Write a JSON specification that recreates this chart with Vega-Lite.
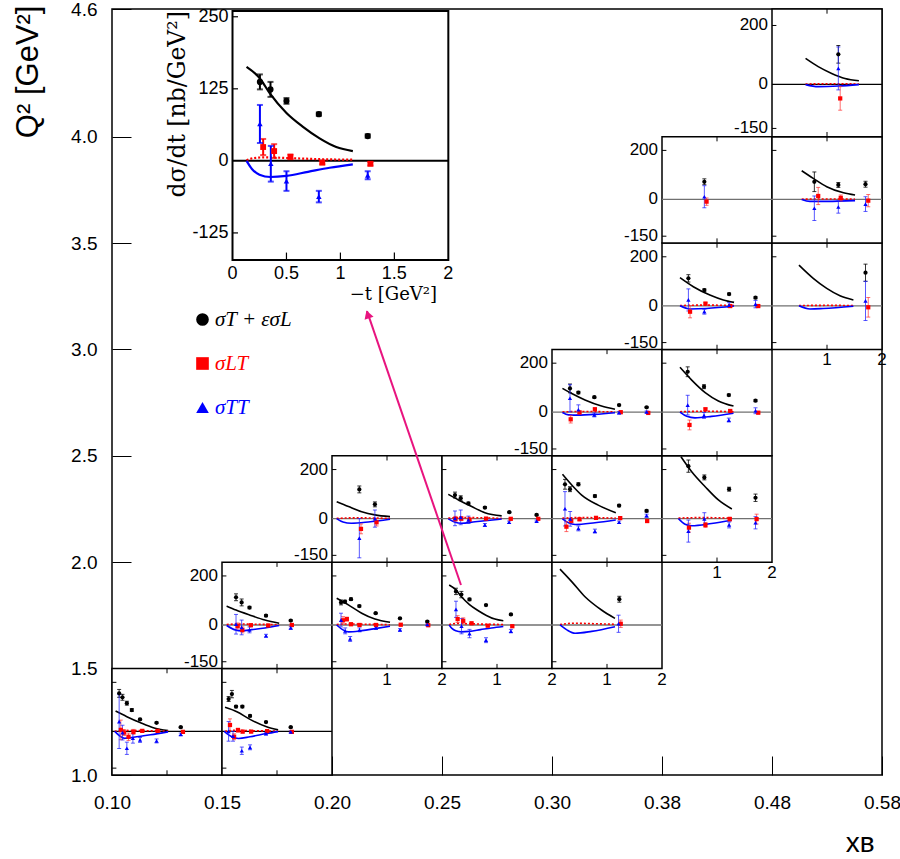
{
  "$schema": "https://vega.github.io/schema/vega-lite/v6.json",
  "width": 770,
  "height": 766,
  "autosize": {"type": "none"},
  "padding": {"left": 112, "top": 9, "right": 18, "bottom": 84},
  "background": "white",
  "config": {
    "view": {"stroke": "black", "strokeWidth": 1.5},
    "font": "Liberation Sans",
    "axis": {"labelFont": "Liberation Sans", "titleFont": "Liberation Sans", "titleFontWeight": "normal", "tickColor": "black", "labelColor": "black", "titleColor": "black", "grid": false, "domain": false},
    "text": {"font": "Liberation Sans", "color": "black"}
  },
  "datasets": {
    "panels": [
      {"panel": "r0c0", "col": 0, "q2lo": 1.0, "q2hi": 1.5, "ylab": false, "xlab": false},
      {"panel": "r0c1", "col": 1, "q2lo": 1.0, "q2hi": 1.5, "ylab": false, "xlab": false},
      {"panel": "r1c1", "col": 1, "q2lo": 1.5, "q2hi": 2.0, "ylab": true, "xlab": false},
      {"panel": "r1c2", "col": 2, "q2lo": 1.5, "q2hi": 2.0, "ylab": false, "xlab": true},
      {"panel": "r1c3", "col": 3, "q2lo": 1.5, "q2hi": 2.0, "ylab": false, "xlab": true},
      {"panel": "r1c4", "col": 4, "q2lo": 1.5, "q2hi": 2.0, "ylab": false, "xlab": true},
      {"panel": "r2c2", "col": 2, "q2lo": 2.0, "q2hi": 2.5, "ylab": true, "xlab": false},
      {"panel": "r2c3", "col": 3, "q2lo": 2.0, "q2hi": 2.5, "ylab": false, "xlab": false},
      {"panel": "r2c4", "col": 4, "q2lo": 2.0, "q2hi": 2.5, "ylab": false, "xlab": false},
      {"panel": "r2c5", "col": 5, "q2lo": 2.0, "q2hi": 2.5, "ylab": false, "xlab": true},
      {"panel": "r3c4", "col": 4, "q2lo": 2.5, "q2hi": 3.0, "ylab": true, "xlab": false},
      {"panel": "r3c5", "col": 5, "q2lo": 2.5, "q2hi": 3.0, "ylab": false, "xlab": false},
      {"panel": "r4c5", "col": 5, "q2lo": 3.0, "q2hi": 3.5, "ylab": true, "xlab": false},
      {"panel": "r4c6", "col": 6, "q2lo": 3.0, "q2hi": 3.5, "ylab": false, "xlab": true},
      {"panel": "r5c5", "col": 5, "q2lo": 3.5, "q2hi": 4.0, "ylab": true, "xlab": false},
      {"panel": "r5c6", "col": 6, "q2lo": 3.5, "q2hi": 4.0, "ylab": false, "xlab": false},
      {"panel": "r6c6", "col": 6, "q2lo": 4.0, "q2hi": 4.6, "ylab": true, "xlab": false}
    ],
    "points": [
      {"panel": "r0c0", "series": "T+L", "t": 0.13, "v": 155, "err": 16},
      {"panel": "r0c0", "series": "T+L", "t": 0.19, "v": 139, "err": 12},
      {"panel": "r0c0", "series": "T+L", "t": 0.27, "v": 115, "err": 8},
      {"panel": "r0c0", "series": "T+L", "t": 0.36, "v": 87, "err": 6},
      {"panel": "r0c0", "series": "T+L", "t": 0.51, "v": 49, "err": 4},
      {"panel": "r0c0", "series": "T+L", "t": 0.81, "v": 35, "err": 3},
      {"panel": "r0c0", "series": "T+L", "t": 1.25, "v": 17, "err": 3},
      {"panel": "r0c0", "series": "LT", "t": 0.16, "v": 6, "err": 40},
      {"panel": "r0c0", "series": "LT", "t": 0.22, "v": -5, "err": 12},
      {"panel": "r0c0", "series": "LT", "t": 0.30, "v": -22, "err": 15},
      {"panel": "r0c0", "series": "LT", "t": 0.39, "v": -2, "err": 10},
      {"panel": "r0c0", "series": "LT", "t": 0.55, "v": 2, "err": 5},
      {"panel": "r0c0", "series": "LT", "t": 0.83, "v": 2, "err": 4},
      {"panel": "r0c0", "series": "LT", "t": 1.29, "v": -2, "err": 3},
      {"panel": "r0c0", "series": "TT", "t": 0.13, "v": 40, "err": 110},
      {"panel": "r0c0", "series": "TT", "t": 0.19, "v": -5, "err": 30},
      {"panel": "r0c0", "series": "TT", "t": 0.27, "v": -69, "err": 25},
      {"panel": "r0c0", "series": "TT", "t": 0.38, "v": -28, "err": 20},
      {"panel": "r0c0", "series": "TT", "t": 0.51, "v": -35, "err": 10},
      {"panel": "r0c0", "series": "TT", "t": 0.81, "v": -39, "err": 8},
      {"panel": "r0c0", "series": "TT", "t": 1.25, "v": -12, "err": 5},

      {"panel": "r0c1", "series": "T+L", "t": 0.12, "v": 132, "err": 10},
      {"panel": "r0c1", "series": "T+L", "t": 0.18, "v": 152, "err": 15},
      {"panel": "r0c1", "series": "T+L", "t": 0.255, "v": 101, "err": 5},
      {"panel": "r0c1", "series": "T+L", "t": 0.37, "v": 101, "err": 5},
      {"panel": "r0c1", "series": "T+L", "t": 0.51, "v": 63, "err": 4},
      {"panel": "r0c1", "series": "T+L", "t": 0.8, "v": 38, "err": 3},
      {"panel": "r0c1", "series": "T+L", "t": 1.25, "v": 17, "err": 3},
      {"panel": "r0c1", "series": "LT", "t": 0.145, "v": 26, "err": 25},
      {"panel": "r0c1", "series": "LT", "t": 0.22, "v": -22, "err": 12},
      {"panel": "r0c1", "series": "LT", "t": 0.29, "v": 5, "err": 8},
      {"panel": "r0c1", "series": "LT", "t": 0.375, "v": -1, "err": 5},
      {"panel": "r0c1", "series": "LT", "t": 0.53, "v": -1, "err": 4},
      {"panel": "r0c1", "series": "LT", "t": 0.82, "v": 1, "err": 3},
      {"panel": "r0c1", "series": "LT", "t": 1.27, "v": -2, "err": 3},
      {"panel": "r0c1", "series": "TT", "t": 0.12, "v": 0, "err": 40},
      {"panel": "r0c1", "series": "TT", "t": 0.2, "v": -20, "err": 20},
      {"panel": "r0c1", "series": "TT", "t": 0.36, "v": -79, "err": 15},
      {"panel": "r0c1", "series": "TT", "t": 0.51, "v": -65, "err": 10},
      {"panel": "r0c1", "series": "TT", "t": 0.8, "v": -9, "err": 5},
      {"panel": "r0c1", "series": "TT", "t": 1.25, "v": -2, "err": 4},

      {"panel": "r1c1", "series": "T+L", "t": 0.255, "v": 113, "err": 14},
      {"panel": "r1c1", "series": "T+L", "t": 0.357, "v": 92, "err": 14},
      {"panel": "r1c1", "series": "T+L", "t": 0.5, "v": 71, "err": 5},
      {"panel": "r1c1", "series": "T+L", "t": 0.8, "v": 38, "err": 4},
      {"panel": "r1c1", "series": "T+L", "t": 1.25, "v": 18, "err": 3},
      {"panel": "r1c1", "series": "LT", "t": 0.285, "v": -4, "err": 12},
      {"panel": "r1c1", "series": "LT", "t": 0.37, "v": -20, "err": 12},
      {"panel": "r1c1", "series": "LT", "t": 0.525, "v": -1, "err": 5},
      {"panel": "r1c1", "series": "LT", "t": 0.84, "v": -2, "err": 3},
      {"panel": "r1c1", "series": "LT", "t": 1.27, "v": 0, "err": 3},
      {"panel": "r1c1", "series": "TT", "t": 0.255, "v": 3, "err": 40},
      {"panel": "r1c1", "series": "TT", "t": 0.357, "v": -10, "err": 30},
      {"panel": "r1c1", "series": "TT", "t": 0.5, "v": -20, "err": 12},
      {"panel": "r1c1", "series": "TT", "t": 0.8, "v": -44, "err": 6},
      {"panel": "r1c1", "series": "TT", "t": 1.25, "v": -12, "err": 5},

      {"panel": "r1c2", "series": "T+L", "t": 0.164, "v": 92, "err": 10},
      {"panel": "r1c2", "series": "T+L", "t": 0.236, "v": 95, "err": 6},
      {"panel": "r1c2", "series": "T+L", "t": 0.345, "v": 105, "err": 5},
      {"panel": "r1c2", "series": "T+L", "t": 0.497, "v": 77, "err": 4},
      {"panel": "r1c2", "series": "T+L", "t": 0.794, "v": 48, "err": 3},
      {"panel": "r1c2", "series": "T+L", "t": 1.236, "v": 27, "err": 3},
      {"panel": "r1c2", "series": "T+L", "t": 1.733, "v": 14, "err": 3},
      {"panel": "r1c2", "series": "LT", "t": 0.2, "v": 19, "err": 15},
      {"panel": "r1c2", "series": "LT", "t": 0.27, "v": 24, "err": 8},
      {"panel": "r1c2", "series": "LT", "t": 0.345, "v": 3, "err": 5},
      {"panel": "r1c2", "series": "LT", "t": 0.5, "v": 0, "err": 4},
      {"panel": "r1c2", "series": "LT", "t": 0.8, "v": 0, "err": 3},
      {"panel": "r1c2", "series": "LT", "t": 1.25, "v": 1, "err": 3},
      {"panel": "r1c2", "series": "LT", "t": 1.75, "v": -1, "err": 3},
      {"panel": "r1c2", "series": "TT", "t": 0.164, "v": 20, "err": 28},
      {"panel": "r1c2", "series": "TT", "t": 0.24, "v": -24, "err": 12},
      {"panel": "r1c2", "series": "TT", "t": 0.33, "v": -57, "err": 10},
      {"panel": "r1c2", "series": "TT", "t": 0.5, "v": -20, "err": 8},
      {"panel": "r1c2", "series": "TT", "t": 0.8, "v": -12, "err": 5},
      {"panel": "r1c2", "series": "TT", "t": 1.236, "v": -20, "err": 5},
      {"panel": "r1c2", "series": "TT", "t": 1.733, "v": 2, "err": 3},

      {"panel": "r1c3", "series": "T+L", "t": 0.254, "v": 137, "err": 13},
      {"panel": "r1c3", "series": "T+L", "t": 0.352, "v": 124, "err": 13},
      {"panel": "r1c3", "series": "T+L", "t": 0.5, "v": 104, "err": 5},
      {"panel": "r1c3", "series": "T+L", "t": 0.8, "v": 81, "err": 3},
      {"panel": "r1c3", "series": "T+L", "t": 1.253, "v": 43, "err": 3},
      {"panel": "r1c3", "series": "LT", "t": 0.284, "v": 24, "err": 14},
      {"panel": "r1c3", "series": "LT", "t": 0.386, "v": 17, "err": 12},
      {"panel": "r1c3", "series": "LT", "t": 0.537, "v": 7, "err": 4},
      {"panel": "r1c3", "series": "LT", "t": 0.832, "v": -3, "err": 3},
      {"panel": "r1c3", "series": "LT", "t": 1.278, "v": -5, "err": 3},
      {"panel": "r1c3", "series": "TT", "t": 0.254, "v": 64, "err": 33},
      {"panel": "r1c3", "series": "TT", "t": 0.355, "v": -5, "err": 31},
      {"panel": "r1c3", "series": "TT", "t": 0.5, "v": -35, "err": 17},
      {"panel": "r1c3", "series": "TT", "t": 0.8, "v": -62, "err": 10},
      {"panel": "r1c3", "series": "TT", "t": 1.253, "v": -25, "err": 7},

      {"panel": "r1c4", "series": "T+L", "t": 1.224, "v": 105, "err": 12},
      {"panel": "r1c4", "series": "LT", "t": 1.25, "v": 5, "err": 15},
      {"panel": "r1c4", "series": "TT", "t": 1.21, "v": 5, "err": 35},

      {"panel": "r2c2", "series": "T+L", "t": 0.497, "v": 119, "err": 14},
      {"panel": "r2c2", "series": "T+L", "t": 0.78, "v": 58, "err": 10},
      {"panel": "r2c2", "series": "LT", "t": 0.527, "v": -42, "err": 20},
      {"panel": "r2c2", "series": "LT", "t": 0.81, "v": -15, "err": 15},
      {"panel": "r2c2", "series": "TT", "t": 0.497, "v": -80, "err": 80},
      {"panel": "r2c2", "series": "TT", "t": 0.78, "v": 0, "err": 35},

      {"panel": "r2c3", "series": "T+L", "t": 0.236, "v": 96, "err": 12},
      {"panel": "r2c3", "series": "T+L", "t": 0.34, "v": 83, "err": 10},
      {"panel": "r2c3", "series": "T+L", "t": 0.48, "v": 62, "err": 5},
      {"panel": "r2c3", "series": "T+L", "t": 0.78, "v": 45, "err": 4},
      {"panel": "r2c3", "series": "T+L", "t": 1.224, "v": 26, "err": 3},
      {"panel": "r2c3", "series": "T+L", "t": 1.72, "v": 15, "err": 3},
      {"panel": "r2c3", "series": "LT", "t": 0.245, "v": -1, "err": 10},
      {"panel": "r2c3", "series": "LT", "t": 0.35, "v": 0, "err": 8},
      {"panel": "r2c3", "series": "LT", "t": 0.5, "v": -4, "err": 5},
      {"panel": "r2c3", "series": "LT", "t": 0.8, "v": 0, "err": 3},
      {"panel": "r2c3", "series": "LT", "t": 1.25, "v": -1, "err": 3},
      {"panel": "r2c3", "series": "LT", "t": 1.75, "v": -1, "err": 3},
      {"panel": "r2c3", "series": "TT", "t": 0.236, "v": 1, "err": 30},
      {"panel": "r2c3", "series": "TT", "t": 0.34, "v": 5, "err": 30},
      {"panel": "r2c3", "series": "TT", "t": 0.48, "v": -5, "err": 15},
      {"panel": "r2c3", "series": "TT", "t": 0.78, "v": -26, "err": 6},
      {"panel": "r2c3", "series": "TT", "t": 1.22, "v": -15, "err": 5},
      {"panel": "r2c3", "series": "TT", "t": 1.72, "v": -10, "err": 4},

      {"panel": "r2c4", "series": "T+L", "t": 0.236, "v": 140, "err": 20},
      {"panel": "r2c4", "series": "T+L", "t": 0.327, "v": 120, "err": 10},
      {"panel": "r2c4", "series": "T+L", "t": 0.48, "v": 140, "err": 6},
      {"panel": "r2c4", "series": "T+L", "t": 0.78, "v": 92, "err": 5},
      {"panel": "r2c4", "series": "T+L", "t": 1.22, "v": 53, "err": 5},
      {"panel": "r2c4", "series": "T+L", "t": 1.72, "v": 31, "err": 4},
      {"panel": "r2c4", "series": "LT", "t": 0.262, "v": -33, "err": 20},
      {"panel": "r2c4", "series": "LT", "t": 0.35, "v": -9, "err": 8},
      {"panel": "r2c4", "series": "LT", "t": 0.5, "v": -3, "err": 5},
      {"panel": "r2c4", "series": "LT", "t": 0.8, "v": 3, "err": 4},
      {"panel": "r2c4", "series": "LT", "t": 1.24, "v": 2, "err": 4},
      {"panel": "r2c4", "series": "LT", "t": 1.73, "v": -10, "err": 4},
      {"panel": "r2c4", "series": "TT", "t": 0.236, "v": 40, "err": 70},
      {"panel": "r2c4", "series": "TT", "t": 0.33, "v": -1, "err": 30},
      {"panel": "r2c4", "series": "TT", "t": 0.48, "v": -40, "err": 10},
      {"panel": "r2c4", "series": "TT", "t": 0.78, "v": -51, "err": 8},
      {"panel": "r2c4", "series": "TT", "t": 1.22, "v": -15, "err": 5},
      {"panel": "r2c4", "series": "TT", "t": 1.72, "v": 12, "err": 6},

      {"panel": "r2c5", "series": "T+L", "t": 0.48, "v": 214, "err": 25},
      {"panel": "r2c5", "series": "T+L", "t": 0.77, "v": 168, "err": 10},
      {"panel": "r2c5", "series": "T+L", "t": 1.22, "v": 120, "err": 8},
      {"panel": "r2c5", "series": "T+L", "t": 1.7, "v": 85, "err": 15},
      {"panel": "r2c5", "series": "LT", "t": 0.49, "v": -37, "err": 18},
      {"panel": "r2c5", "series": "LT", "t": 0.79, "v": -26, "err": 10},
      {"panel": "r2c5", "series": "LT", "t": 1.23, "v": -2, "err": 8},
      {"panel": "r2c5", "series": "LT", "t": 1.72, "v": -2, "err": 20},
      {"panel": "r2c5", "series": "TT", "t": 0.48, "v": -51, "err": 45},
      {"panel": "r2c5", "series": "TT", "t": 0.77, "v": -1, "err": 25},
      {"panel": "r2c5", "series": "TT", "t": 1.22, "v": -26, "err": 12},
      {"panel": "r2c5", "series": "TT", "t": 1.7, "v": -17, "err": 25},

      {"panel": "r3c4", "series": "T+L", "t": 0.327, "v": 97, "err": 18},
      {"panel": "r3c4", "series": "T+L", "t": 0.48, "v": 80, "err": 5},
      {"panel": "r3c4", "series": "T+L", "t": 0.77, "v": 61, "err": 4},
      {"panel": "r3c4", "series": "T+L", "t": 1.22, "v": 29, "err": 3},
      {"panel": "r3c4", "series": "T+L", "t": 1.72, "v": 20, "err": 3},
      {"panel": "r3c4", "series": "LT", "t": 0.34, "v": -29, "err": 15},
      {"panel": "r3c4", "series": "LT", "t": 0.5, "v": -1, "err": 6},
      {"panel": "r3c4", "series": "LT", "t": 0.78, "v": 12, "err": 5},
      {"panel": "r3c4", "series": "LT", "t": 1.25, "v": 0, "err": 4},
      {"panel": "r3c4", "series": "LT", "t": 1.75, "v": -3, "err": 3},
      {"panel": "r3c4", "series": "TT", "t": 0.327, "v": 57, "err": 55},
      {"panel": "r3c4", "series": "TT", "t": 0.48, "v": 10, "err": 20},
      {"panel": "r3c4", "series": "TT", "t": 0.77, "v": -11, "err": 8},
      {"panel": "r3c4", "series": "TT", "t": 1.22, "v": -2, "err": 5},
      {"panel": "r3c4", "series": "TT", "t": 1.72, "v": 1, "err": 4},

      {"panel": "r3c5", "series": "T+L", "t": 0.467, "v": 165, "err": 20},
      {"panel": "r3c5", "series": "T+L", "t": 0.764, "v": 104, "err": 8},
      {"panel": "r3c5", "series": "T+L", "t": 1.215, "v": 70, "err": 4},
      {"panel": "r3c5", "series": "T+L", "t": 1.7, "v": 47, "err": 4},
      {"panel": "r3c5", "series": "LT", "t": 0.5, "v": -52, "err": 20},
      {"panel": "r3c5", "series": "LT", "t": 0.79, "v": 12, "err": 5},
      {"panel": "r3c5", "series": "LT", "t": 1.24, "v": 5, "err": 4},
      {"panel": "r3c5", "series": "LT", "t": 1.75, "v": -2, "err": 4},
      {"panel": "r3c5", "series": "TT", "t": 0.467, "v": 29, "err": 40},
      {"panel": "r3c5", "series": "TT", "t": 0.764, "v": -13, "err": 12},
      {"panel": "r3c5", "series": "TT", "t": 1.215, "v": -32, "err": 8},
      {"panel": "r3c5", "series": "TT", "t": 1.7, "v": 6, "err": 12},

      {"panel": "r4c5", "series": "T+L", "t": 0.48, "v": 112, "err": 15},
      {"panel": "r4c5", "series": "T+L", "t": 0.77, "v": 64, "err": 5},
      {"panel": "r4c5", "series": "T+L", "t": 1.22, "v": 48, "err": 4},
      {"panel": "r4c5", "series": "T+L", "t": 1.7, "v": 33, "err": 4},
      {"panel": "r4c5", "series": "LT", "t": 0.51, "v": -24, "err": 25},
      {"panel": "r4c5", "series": "LT", "t": 0.79, "v": 9, "err": 5},
      {"panel": "r4c5", "series": "LT", "t": 1.24, "v": -1, "err": 4},
      {"panel": "r4c5", "series": "LT", "t": 1.75, "v": -1, "err": 4},
      {"panel": "r4c5", "series": "TT", "t": 0.48, "v": 24, "err": 45},
      {"panel": "r4c5", "series": "TT", "t": 0.77, "v": -24, "err": 10},
      {"panel": "r4c5", "series": "TT", "t": 1.22, "v": 3, "err": 10},
      {"panel": "r4c5", "series": "TT", "t": 1.7, "v": 7, "err": 15},

      {"panel": "r4c6", "series": "T+L", "t": 1.7, "v": 135, "err": 35},
      {"panel": "r4c6", "series": "LT", "t": 1.75, "v": -6, "err": 40},
      {"panel": "r4c6", "series": "TT", "t": 1.7, "v": 20, "err": 80},

      {"panel": "r5c5", "series": "T+L", "t": 0.77, "v": 72, "err": 12},
      {"panel": "r5c5", "series": "LT", "t": 0.81, "v": -9, "err": 15},
      {"panel": "r5c5", "series": "TT", "t": 0.77, "v": 11, "err": 45},

      {"panel": "r5c6", "series": "T+L", "t": 0.77, "v": 72, "err": 40},
      {"panel": "r5c6", "series": "T+L", "t": 1.206, "v": 59, "err": 10},
      {"panel": "r5c6", "series": "T+L", "t": 1.7, "v": 62, "err": 12},
      {"panel": "r5c6", "series": "LT", "t": 0.84, "v": 14, "err": 35},
      {"panel": "r5c6", "series": "LT", "t": 1.25, "v": 6, "err": 12},
      {"panel": "r5c6", "series": "LT", "t": 1.75, "v": -5, "err": 25},
      {"panel": "r5c6", "series": "TT", "t": 0.77, "v": -36, "err": 50},
      {"panel": "r5c6", "series": "TT", "t": 1.206, "v": -31, "err": 25},
      {"panel": "r5c6", "series": "TT", "t": 1.7, "v": -19, "err": 30},

      {"panel": "r6c6", "series": "T+L", "t": 1.206, "v": 102, "err": 30},
      {"panel": "r6c6", "series": "LT", "t": 1.24, "v": -48, "err": 40},
      {"panel": "r6c6", "series": "TT", "t": 1.206, "v": 54, "err": 73}
    ],
    "curves": [
      {"panel": "r0c0", "series": "T+L", "t": 0.065, "v": 83},
      {"panel": "r0c0", "series": "T+L", "t": 0.27, "v": 60},
      {"panel": "r0c0", "series": "T+L", "t": 0.51, "v": 36},
      {"panel": "r0c0", "series": "T+L", "t": 0.75, "v": 15},
      {"panel": "r0c0", "series": "T+L", "t": 1.02, "v": 3},
      {"panel": "r0c0", "series": "LT", "t": 0.05, "v": 0},
      {"panel": "r0c0", "series": "LT", "t": 0.2, "v": 4},
      {"panel": "r0c0", "series": "LT", "t": 0.5, "v": 3},
      {"panel": "r0c0", "series": "LT", "t": 1.02, "v": 1},
      {"panel": "r0c0", "series": "TT", "t": 0.05, "v": 0},
      {"panel": "r0c0", "series": "TT", "t": 0.23, "v": -28},
      {"panel": "r0c0", "series": "TT", "t": 0.39, "v": -24},
      {"panel": "r0c0", "series": "TT", "t": 0.7, "v": -14},
      {"panel": "r0c0", "series": "TT", "t": 1.02, "v": -2},

      {"panel": "r0c1", "series": "T+L", "t": 0.055, "v": 98},
      {"panel": "r0c1", "series": "T+L", "t": 0.27, "v": 80},
      {"panel": "r0c1", "series": "T+L", "t": 0.51, "v": 49},
      {"panel": "r0c1", "series": "T+L", "t": 0.81, "v": 19},
      {"panel": "r0c1", "series": "T+L", "t": 1.02, "v": 6},
      {"panel": "r0c1", "series": "LT", "t": 0.055, "v": 0},
      {"panel": "r0c1", "series": "LT", "t": 0.2, "v": 4},
      {"panel": "r0c1", "series": "LT", "t": 0.5, "v": 3},
      {"panel": "r0c1", "series": "LT", "t": 1.02, "v": 1},
      {"panel": "r0c1", "series": "TT", "t": 0.04, "v": 0},
      {"panel": "r0c1", "series": "TT", "t": 0.18, "v": -22},
      {"panel": "r0c1", "series": "TT", "t": 0.3, "v": -29},
      {"panel": "r0c1", "series": "TT", "t": 0.51, "v": -22},
      {"panel": "r0c1", "series": "TT", "t": 0.81, "v": -9},
      {"panel": "r0c1", "series": "TT", "t": 1.02, "v": -1},

      {"panel": "r1c1", "series": "T+L", "t": 0.085, "v": 77},
      {"panel": "r1c1", "series": "T+L", "t": 0.255, "v": 61},
      {"panel": "r1c1", "series": "T+L", "t": 0.5, "v": 41},
      {"panel": "r1c1", "series": "T+L", "t": 0.78, "v": 20},
      {"panel": "r1c1", "series": "T+L", "t": 1.04, "v": 7},
      {"panel": "r1c1", "series": "LT", "t": 0.085, "v": 2},
      {"panel": "r1c1", "series": "LT", "t": 0.3, "v": 4},
      {"panel": "r1c1", "series": "LT", "t": 0.6, "v": 3},
      {"panel": "r1c1", "series": "LT", "t": 1.04, "v": 1},
      {"panel": "r1c1", "series": "TT", "t": 0.085, "v": -2},
      {"panel": "r1c1", "series": "TT", "t": 0.24, "v": -20},
      {"panel": "r1c1", "series": "TT", "t": 0.36, "v": -24},
      {"panel": "r1c1", "series": "TT", "t": 0.54, "v": -19},
      {"panel": "r1c1", "series": "TT", "t": 0.78, "v": -12},
      {"panel": "r1c1", "series": "TT", "t": 1.04, "v": -2},

      {"panel": "r1c2", "series": "T+L", "t": 0.085, "v": 109},
      {"panel": "r1c2", "series": "T+L", "t": 0.297, "v": 82},
      {"panel": "r1c2", "series": "T+L", "t": 0.54, "v": 48},
      {"panel": "r1c2", "series": "T+L", "t": 0.78, "v": 24},
      {"panel": "r1c2", "series": "T+L", "t": 1.055, "v": 11},
      {"panel": "r1c2", "series": "LT", "t": 0.085, "v": 2},
      {"panel": "r1c2", "series": "LT", "t": 0.3, "v": 4},
      {"panel": "r1c2", "series": "LT", "t": 0.6, "v": 3},
      {"panel": "r1c2", "series": "LT", "t": 1.055, "v": 1},
      {"panel": "r1c2", "series": "TT", "t": 0.085, "v": 0},
      {"panel": "r1c2", "series": "TT", "t": 0.2, "v": -20},
      {"panel": "r1c2", "series": "TT", "t": 0.3, "v": -28},
      {"panel": "r1c2", "series": "TT", "t": 0.54, "v": -23},
      {"panel": "r1c2", "series": "TT", "t": 0.78, "v": -15},
      {"panel": "r1c2", "series": "TT", "t": 1.055, "v": -5},

      {"panel": "r1c3", "series": "T+L", "t": 0.13, "v": 163},
      {"panel": "r1c3", "series": "T+L", "t": 0.254, "v": 143},
      {"panel": "r1c3", "series": "T+L", "t": 0.346, "v": 117},
      {"panel": "r1c3", "series": "T+L", "t": 0.5, "v": 83},
      {"panel": "r1c3", "series": "T+L", "t": 0.653, "v": 59},
      {"panel": "r1c3", "series": "T+L", "t": 0.807, "v": 39},
      {"panel": "r1c3", "series": "T+L", "t": 0.961, "v": 24},
      {"panel": "r1c3", "series": "T+L", "t": 1.115, "v": 17},
      {"panel": "r1c3", "series": "LT", "t": 0.13, "v": 1},
      {"panel": "r1c3", "series": "LT", "t": 0.2, "v": 5},
      {"panel": "r1c3", "series": "LT", "t": 0.3, "v": 6},
      {"panel": "r1c3", "series": "LT", "t": 0.5, "v": 5},
      {"panel": "r1c3", "series": "LT", "t": 0.8, "v": 3},
      {"panel": "r1c3", "series": "LT", "t": 1.115, "v": 2},
      {"panel": "r1c3", "series": "TT", "t": 0.13, "v": 0},
      {"panel": "r1c3", "series": "TT", "t": 0.18, "v": -14},
      {"panel": "r1c3", "series": "TT", "t": 0.25, "v": -24},
      {"panel": "r1c3", "series": "TT", "t": 0.35, "v": -28},
      {"panel": "r1c3", "series": "TT", "t": 0.5, "v": -26},
      {"panel": "r1c3", "series": "TT", "t": 0.7, "v": -19},
      {"panel": "r1c3", "series": "TT", "t": 0.9, "v": -12},
      {"panel": "r1c3", "series": "TT", "t": 1.115, "v": -6},

      {"panel": "r1c4", "series": "T+L", "t": 0.145, "v": 228},
      {"panel": "r1c4", "series": "T+L", "t": 0.358, "v": 177},
      {"panel": "r1c4", "series": "T+L", "t": 0.6, "v": 115},
      {"panel": "r1c4", "series": "T+L", "t": 0.9, "v": 61},
      {"panel": "r1c4", "series": "T+L", "t": 1.145, "v": 27},
      {"panel": "r1c4", "series": "LT", "t": 0.145, "v": 2},
      {"panel": "r1c4", "series": "LT", "t": 0.4, "v": 7},
      {"panel": "r1c4", "series": "LT", "t": 0.8, "v": 5},
      {"panel": "r1c4", "series": "LT", "t": 1.145, "v": 3},
      {"panel": "r1c4", "series": "TT", "t": 0.145, "v": 0},
      {"panel": "r1c4", "series": "TT", "t": 0.27, "v": -20},
      {"panel": "r1c4", "series": "TT", "t": 0.42, "v": -34},
      {"panel": "r1c4", "series": "TT", "t": 0.72, "v": -26},
      {"panel": "r1c4", "series": "TT", "t": 1.145, "v": -7},

      {"panel": "r2c2", "series": "T+L", "t": 0.085, "v": 69},
      {"panel": "r2c2", "series": "T+L", "t": 0.3, "v": 49},
      {"panel": "r2c2", "series": "T+L", "t": 0.54, "v": 28},
      {"panel": "r2c2", "series": "T+L", "t": 0.78, "v": 15},
      {"panel": "r2c2", "series": "T+L", "t": 1.055, "v": 8},
      {"panel": "r2c2", "series": "LT", "t": 0.085, "v": 1},
      {"panel": "r2c2", "series": "LT", "t": 0.4, "v": 3},
      {"panel": "r2c2", "series": "LT", "t": 1.055, "v": 1},
      {"panel": "r2c2", "series": "TT", "t": 0.085, "v": 0},
      {"panel": "r2c2", "series": "TT", "t": 0.2, "v": -14},
      {"panel": "r2c2", "series": "TT", "t": 0.35, "v": -19},
      {"panel": "r2c2", "series": "TT", "t": 0.66, "v": -14},
      {"panel": "r2c2", "series": "TT", "t": 1.055, "v": -3},

      {"panel": "r2c3", "series": "T+L", "t": 0.115, "v": 99},
      {"panel": "r2c3", "series": "T+L", "t": 0.3, "v": 76},
      {"panel": "r2c3", "series": "T+L", "t": 0.54, "v": 49},
      {"panel": "r2c3", "series": "T+L", "t": 0.78, "v": 24},
      {"panel": "r2c3", "series": "T+L", "t": 1.085, "v": 11},
      {"panel": "r2c3", "series": "LT", "t": 0.115, "v": 2},
      {"panel": "r2c3", "series": "LT", "t": 0.4, "v": 4},
      {"panel": "r2c3", "series": "LT", "t": 0.8, "v": 3},
      {"panel": "r2c3", "series": "LT", "t": 1.085, "v": 1},
      {"panel": "r2c3", "series": "TT", "t": 0.115, "v": -1},
      {"panel": "r2c3", "series": "TT", "t": 0.24, "v": -15},
      {"panel": "r2c3", "series": "TT", "t": 0.35, "v": -19},
      {"panel": "r2c3", "series": "TT", "t": 0.6, "v": -13},
      {"panel": "r2c3", "series": "TT", "t": 1.085, "v": -2},

      {"panel": "r2c4", "series": "T+L", "t": 0.19, "v": 181},
      {"panel": "r2c4", "series": "T+L", "t": 0.36, "v": 137},
      {"panel": "r2c4", "series": "T+L", "t": 0.54, "v": 96},
      {"panel": "r2c4", "series": "T+L", "t": 0.84, "v": 55},
      {"panel": "r2c4", "series": "T+L", "t": 1.16, "v": 24},
      {"panel": "r2c4", "series": "LT", "t": 0.19, "v": 2},
      {"panel": "r2c4", "series": "LT", "t": 0.5, "v": 4},
      {"panel": "r2c4", "series": "LT", "t": 1.16, "v": 2},
      {"panel": "r2c4", "series": "TT", "t": 0.19, "v": -1},
      {"panel": "r2c4", "series": "TT", "t": 0.3, "v": -17},
      {"panel": "r2c4", "series": "TT", "t": 0.42, "v": -24},
      {"panel": "r2c4", "series": "TT", "t": 0.78, "v": -17},
      {"panel": "r2c4", "series": "TT", "t": 1.16, "v": -6},

      {"panel": "r2c5", "series": "T+L", "t": 0.345, "v": 252},
      {"panel": "r2c5", "series": "T+L", "t": 0.54, "v": 191},
      {"panel": "r2c5", "series": "T+L", "t": 0.785, "v": 130},
      {"panel": "r2c5", "series": "T+L", "t": 1.025, "v": 76},
      {"panel": "r2c5", "series": "T+L", "t": 1.27, "v": 39},
      {"panel": "r2c5", "series": "LT", "t": 0.3, "v": 2},
      {"panel": "r2c5", "series": "LT", "t": 0.7, "v": 4},
      {"panel": "r2c5", "series": "LT", "t": 1.27, "v": 2},
      {"panel": "r2c5", "series": "TT", "t": 0.3, "v": 0},
      {"panel": "r2c5", "series": "TT", "t": 0.42, "v": -23},
      {"panel": "r2c5", "series": "TT", "t": 0.54, "v": -29},
      {"panel": "r2c5", "series": "TT", "t": 0.9, "v": -20},
      {"panel": "r2c5", "series": "TT", "t": 1.27, "v": -7},

      {"panel": "r3c4", "series": "T+L", "t": 0.19, "v": 97},
      {"panel": "r3c4", "series": "T+L", "t": 0.35, "v": 77},
      {"panel": "r3c4", "series": "T+L", "t": 0.6, "v": 50},
      {"panel": "r3c4", "series": "T+L", "t": 0.9, "v": 25},
      {"panel": "r3c4", "series": "T+L", "t": 1.145, "v": 12},
      {"panel": "r3c4", "series": "LT", "t": 0.19, "v": 1},
      {"panel": "r3c4", "series": "LT", "t": 0.5, "v": 3},
      {"panel": "r3c4", "series": "LT", "t": 1.145, "v": 1},
      {"panel": "r3c4", "series": "TT", "t": 0.19, "v": -1},
      {"panel": "r3c4", "series": "TT", "t": 0.3, "v": -11},
      {"panel": "r3c4", "series": "TT", "t": 0.45, "v": -12},
      {"panel": "r3c4", "series": "TT", "t": 0.78, "v": -9},
      {"panel": "r3c4", "series": "TT", "t": 1.145, "v": -2},

      {"panel": "r3c5", "series": "T+L", "t": 0.327, "v": 183},
      {"panel": "r3c5", "series": "T+L", "t": 0.54, "v": 131},
      {"panel": "r3c5", "series": "T+L", "t": 0.785, "v": 80},
      {"panel": "r3c5", "series": "T+L", "t": 1.025, "v": 46},
      {"panel": "r3c5", "series": "T+L", "t": 1.3, "v": 25},
      {"panel": "r3c5", "series": "LT", "t": 0.327, "v": 2},
      {"panel": "r3c5", "series": "LT", "t": 0.8, "v": 4},
      {"panel": "r3c5", "series": "LT", "t": 1.3, "v": 2},
      {"panel": "r3c5", "series": "TT", "t": 0.327, "v": 0},
      {"panel": "r3c5", "series": "TT", "t": 0.45, "v": -17},
      {"panel": "r3c5", "series": "TT", "t": 0.6, "v": -23},
      {"panel": "r3c5", "series": "TT", "t": 0.9, "v": -17},
      {"panel": "r3c5", "series": "TT", "t": 1.3, "v": -4},

      {"panel": "r4c5", "series": "T+L", "t": 0.327, "v": 115},
      {"panel": "r4c5", "series": "T+L", "t": 0.57, "v": 78},
      {"panel": "r4c5", "series": "T+L", "t": 0.87, "v": 44},
      {"panel": "r4c5", "series": "T+L", "t": 1.115, "v": 24},
      {"panel": "r4c5", "series": "T+L", "t": 1.31, "v": 14},
      {"panel": "r4c5", "series": "LT", "t": 0.327, "v": 1},
      {"panel": "r4c5", "series": "LT", "t": 0.8, "v": 3},
      {"panel": "r4c5", "series": "LT", "t": 1.31, "v": 1},
      {"panel": "r4c5", "series": "TT", "t": 0.327, "v": 0},
      {"panel": "r4c5", "series": "TT", "t": 0.51, "v": -13},
      {"panel": "r4c5", "series": "TT", "t": 0.81, "v": -11},
      {"panel": "r4c5", "series": "TT", "t": 1.31, "v": -1},

      {"panel": "r4c6", "series": "T+L", "t": 0.49, "v": 166},
      {"panel": "r4c6", "series": "T+L", "t": 0.75, "v": 112},
      {"panel": "r4c6", "series": "T+L", "t": 0.995, "v": 71},
      {"panel": "r4c6", "series": "T+L", "t": 1.236, "v": 41},
      {"panel": "r4c6", "series": "T+L", "t": 1.48, "v": 24},
      {"panel": "r4c6", "series": "LT", "t": 0.49, "v": 1},
      {"panel": "r4c6", "series": "LT", "t": 1.0, "v": 2},
      {"panel": "r4c6", "series": "LT", "t": 1.48, "v": 1},
      {"panel": "r4c6", "series": "TT", "t": 0.49, "v": 0},
      {"panel": "r4c6", "series": "TT", "t": 0.69, "v": -13},
      {"panel": "r4c6", "series": "TT", "t": 0.93, "v": -11},
      {"panel": "r4c6", "series": "TT", "t": 1.48, "v": -2},

      {"panel": "r5c6", "series": "T+L", "t": 0.54, "v": 117},
      {"panel": "r5c6", "series": "T+L", "t": 0.75, "v": 86},
      {"panel": "r5c6", "series": "T+L", "t": 0.995, "v": 52},
      {"panel": "r5c6", "series": "T+L", "t": 1.3, "v": 27},
      {"panel": "r5c6", "series": "T+L", "t": 1.51, "v": 18},
      {"panel": "r5c6", "series": "LT", "t": 0.54, "v": 1},
      {"panel": "r5c6", "series": "LT", "t": 1.0, "v": 2},
      {"panel": "r5c6", "series": "LT", "t": 1.51, "v": 1},
      {"panel": "r5c6", "series": "TT", "t": 0.54, "v": 0},
      {"panel": "r5c6", "series": "TT", "t": 0.69, "v": -8},
      {"panel": "r5c6", "series": "TT", "t": 1.0, "v": -8},
      {"panel": "r5c6", "series": "TT", "t": 1.51, "v": -5},

      {"panel": "r6c6", "series": "T+L", "t": 0.61, "v": 88},
      {"panel": "r6c6", "series": "T+L", "t": 0.84, "v": 60},
      {"panel": "r6c6", "series": "T+L", "t": 1.085, "v": 37},
      {"panel": "r6c6", "series": "T+L", "t": 1.327, "v": 20},
      {"panel": "r6c6", "series": "T+L", "t": 1.58, "v": 12},
      {"panel": "r6c6", "series": "LT", "t": 0.61, "v": 1},
      {"panel": "r6c6", "series": "LT", "t": 1.1, "v": 2},
      {"panel": "r6c6", "series": "LT", "t": 1.58, "v": 1},
      {"panel": "r6c6", "series": "TT", "t": 0.61, "v": -1},
      {"panel": "r6c6", "series": "TT", "t": 0.84, "v": -8},
      {"panel": "r6c6", "series": "TT", "t": 1.206, "v": -6},
      {"panel": "r6c6", "series": "TT", "t": 1.58, "v": -1}
    ],
    "insetaxis": [
      {"axis": "x", "value": 0, "label": "0"},
      {"axis": "x", "value": 0.5, "label": "0.5"},
      {"axis": "x", "value": 1, "label": "1"},
      {"axis": "x", "value": 1.5, "label": "1.5"},
      {"axis": "x", "value": 2, "label": "2"},
      {"axis": "y", "value": 250, "label": "250"},
      {"axis": "y", "value": 125, "label": "125"},
      {"axis": "y", "value": 0, "label": "0"},
      {"axis": "y", "value": -125, "label": "-125"}
    ],
    "insettitles": [
      {"axis": "y", "label": "dσ/dt [nb/GeV²]"},
      {"axis": "x", "label": "−t [GeV²]"}
    ]
  },
  "encoding": {
    "x": {
      "field": "X", "type": "quantitative",
      "scale": {"domain": [0, 7], "nice": false, "zero": false},
      "axis": {
        "values": [0, 1, 2, 3, 4, 5, 6, 7],
        "labelExpr": "['0.10','0.15','0.20','0.25','0.30','0.38','0.48','0.58'][datum.value]",
        "labelFontSize": 19, "tickSize": -19, "tickWidth": 1, "labelPadding": 37, "labelFlush": false,
        "title": "xʙ", "titleFontSize": 28, "titleAlign": "right", "titleBaseline": "alphabetic",
        "titleX": 762, "titleY": 76
      }
    },
    "y": {
      "field": "Y", "type": "quantitative",
      "scale": {"domain": [1.0, 4.6], "nice": false, "zero": false},
      "axis": {
        "values": [1.0, 1.5, 2.0, 2.5, 3.0, 3.5, 4.0, 4.6], "format": ".1f",
        "labelFontSize": 19, "tickSize": -19, "tickWidth": 1, "labelPadding": 34, "labelFlush": false,
        "title": "Q² [GeV²]", "titleFontSize": 31, "titleAngle": 270, "titleAlign": "right", "titleBaseline": "middle",
        "titleX": -84, "titleY": -4, "titleLimit": 300
      }
    }
  },
  "layer": [
    {
      "data": {"name": "panels"},
      "transform": [
        {"calculate": "datum.col", "as": "X"},
        {"calculate": "datum.col + 1", "as": "X2"},
        {"calculate": "datum.q2lo", "as": "Y"},
        {"calculate": "datum.q2hi", "as": "Y2"}
      ],
      "mark": {"type": "rect", "fill": "white", "stroke": "black", "strokeWidth": 1.5},
      "encoding": {"x2": {"field": "X2"}, "y2": {"field": "Y2"}}
    },
    {
      "data": {"name": "panels"},
      "transform": [
        {"calculate": "datum.col", "as": "X"},
        {"calculate": "datum.col + 1", "as": "X2"},
        {"calculate": "datum.q2lo + 178 / 434 * (datum.q2hi - datum.q2lo)", "as": "Y"}
      ],
      "mark": {"type": "rule", "strokeWidth": 1.3},
      "encoding": {
        "x2": {"field": "X2"},
        "color": {"condition": {"test": "datum.q2lo < 1.2 || datum.q2lo > 3.9", "value": "#000000"}, "value": "#707070"}
      }
    },
    {
      "data": {"name": "panels"},
      "transform": [
        {"calculate": "datum.col", "as": "X"},
        {"calculate": "datum.col + 0.04", "as": "X2"},
        {"calculate": "datum.q2lo + (200 + 178) / 434 * (datum.q2hi - datum.q2lo)", "as": "Y"}
      ],
      "mark": {"type": "rule", "stroke": "black", "strokeWidth": 1},
      "encoding": {"x2": {"field": "X2"}}
    },
    {
      "data": {"name": "panels"},
      "transform": [
        {"calculate": "datum.col", "as": "X"},
        {"calculate": "datum.col + 0.04", "as": "X2"},
        {"calculate": "datum.q2lo + (-150 + 178) / 434 * (datum.q2hi - datum.q2lo)", "as": "Y"}
      ],
      "mark": {"type": "rule", "stroke": "black", "strokeWidth": 1},
      "encoding": {"x2": {"field": "X2"}}
    },
    {
      "data": {"name": "panels"},
      "transform": [
        {"calculate": "datum.col + 0.5", "as": "X"},
        {"calculate": "datum.q2lo", "as": "Y"},
        {"calculate": "datum.q2lo + 0.022", "as": "Y2"}
      ],
      "mark": {"type": "rule", "stroke": "black", "strokeWidth": 1},
      "encoding": {"y2": {"field": "Y2"}}
    },
    {
      "data": {"name": "panels"},
      "transform": [
        {"calculate": "datum.col + 0.5", "as": "X"},
        {"calculate": "datum.q2hi - 0.022", "as": "Y"},
        {"calculate": "datum.q2hi", "as": "Y2"}
      ],
      "mark": {"type": "rule", "stroke": "black", "strokeWidth": 1},
      "encoding": {"y2": {"field": "Y2"}}
    },
    {
      "data": {"name": "panels"},
      "transform": [
        {"filter": "datum.ylab"},
        {"calculate": "datum.col", "as": "X"},
        {"calculate": "datum.q2lo + (200 + 178) / 434 * (datum.q2hi - datum.q2lo)", "as": "Y"}
      ],
      "mark": {"type": "text", "text": "200", "align": "right", "baseline": "middle", "dx": -4, "fontSize": 17}
    },
    {
      "data": {"name": "panels"},
      "transform": [
        {"filter": "datum.ylab"},
        {"calculate": "datum.col", "as": "X"},
        {"calculate": "datum.q2lo + 178 / 434 * (datum.q2hi - datum.q2lo)", "as": "Y"}
      ],
      "mark": {"type": "text", "text": "0", "align": "right", "baseline": "middle", "dx": -4, "fontSize": 17}
    },
    {
      "data": {"name": "panels"},
      "transform": [
        {"filter": "datum.ylab"},
        {"calculate": "datum.col", "as": "X"},
        {"calculate": "datum.q2lo + (-150 + 178) / 434 * (datum.q2hi - datum.q2lo)", "as": "Y"}
      ],
      "mark": {"type": "text", "text": "-150", "align": "right", "baseline": "middle", "dx": -4, "fontSize": 17}
    },
    {
      "data": {"name": "panels"},
      "transform": [
        {"filter": "datum.xlab"},
        {"calculate": "datum.col + 0.5", "as": "X"},
        {"calculate": "datum.q2lo", "as": "Y"}
      ],
      "mark": {"type": "text", "text": "1", "align": "center", "baseline": "top", "dy": 3, "fontSize": 17}
    },
    {
      "data": {"name": "panels"},
      "transform": [
        {"filter": "datum.xlab"},
        {"calculate": "datum.col + 1", "as": "X"},
        {"calculate": "datum.q2lo", "as": "Y"}
      ],
      "mark": {"type": "text", "text": "2", "align": "center", "baseline": "top", "dy": 3, "fontSize": 17}
    },
    {
      "data": {"name": "curves"},
      "transform": [
        {"filter": "datum.series === 'T+L'"},
        {"lookup": "panel", "from": {"data": {"name": "panels"}, "key": "panel", "fields": ["col", "q2lo", "q2hi"]}},
        {"calculate": "datum.col + datum.t / 2", "as": "X"},
        {"calculate": "datum.q2lo + (datum.v + 178) / 434 * (datum.q2hi - datum.q2lo)", "as": "Y"}
      ],
      "mark": {"type": "line", "interpolate": "monotone", "strokeWidth": 1.6, "color": "#000000"},
      "encoding": {"detail": {"field": "panel"}}
    },
    {
      "data": {"name": "curves"},
      "transform": [
        {"filter": "datum.series === 'LT'"},
        {"lookup": "panel", "from": {"data": {"name": "panels"}, "key": "panel", "fields": ["col", "q2lo", "q2hi"]}},
        {"calculate": "datum.col + datum.t / 2", "as": "X"},
        {"calculate": "datum.q2lo + (datum.v + 178) / 434 * (datum.q2hi - datum.q2lo)", "as": "Y"}
      ],
      "mark": {"type": "line", "interpolate": "monotone", "strokeWidth": 1.6, "color": "#ff0000", "strokeDash": [2, 2]},
      "encoding": {"detail": {"field": "panel"}}
    },
    {
      "data": {"name": "curves"},
      "transform": [
        {"filter": "datum.series === 'TT'"},
        {"lookup": "panel", "from": {"data": {"name": "panels"}, "key": "panel", "fields": ["col", "q2lo", "q2hi"]}},
        {"calculate": "datum.col + datum.t / 2", "as": "X"},
        {"calculate": "datum.q2lo + (datum.v + 178) / 434 * (datum.q2hi - datum.q2lo)", "as": "Y"}
      ],
      "mark": {"type": "line", "interpolate": "monotone", "strokeWidth": 1.6, "color": "#0000ff"},
      "encoding": {"detail": {"field": "panel"}}
    },
    {
      "data": {"name": "points"},
      "transform": [
        {"filter": "datum.series === 'T+L'"},
        {"lookup": "panel", "from": {"data": {"name": "panels"}, "key": "panel", "fields": ["col", "q2lo", "q2hi"]}},
        {"calculate": "datum.col + datum.t / 2", "as": "X"},
        {"calculate": "datum.q2lo + (datum.v - datum.err + 178) / 434 * (datum.q2hi - datum.q2lo)", "as": "Y"},
        {"calculate": "datum.q2lo + (datum.v + datum.err + 178) / 434 * (datum.q2hi - datum.q2lo)", "as": "Y2"}
      ],
      "mark": {"type": "errorbar", "ticks": {"size": 4}, "thickness": 1, "color": "#000000", "opacity": 0.8},
      "encoding": {"y2": {"field": "Y2"}}
    },
    {
      "data": {"name": "points"},
      "transform": [
        {"filter": "datum.series === 'LT'"},
        {"lookup": "panel", "from": {"data": {"name": "panels"}, "key": "panel", "fields": ["col", "q2lo", "q2hi"]}},
        {"calculate": "datum.col + datum.t / 2", "as": "X"},
        {"calculate": "datum.q2lo + (datum.v - datum.err + 178) / 434 * (datum.q2hi - datum.q2lo)", "as": "Y"},
        {"calculate": "datum.q2lo + (datum.v + datum.err + 178) / 434 * (datum.q2hi - datum.q2lo)", "as": "Y2"}
      ],
      "mark": {"type": "errorbar", "ticks": {"size": 4}, "thickness": 1, "color": "#ff3030", "opacity": 0.7},
      "encoding": {"y2": {"field": "Y2"}}
    },
    {
      "data": {"name": "points"},
      "transform": [
        {"filter": "datum.series === 'TT'"},
        {"lookup": "panel", "from": {"data": {"name": "panels"}, "key": "panel", "fields": ["col", "q2lo", "q2hi"]}},
        {"calculate": "datum.col + datum.t / 2", "as": "X"},
        {"calculate": "datum.q2lo + (datum.v - datum.err + 178) / 434 * (datum.q2hi - datum.q2lo)", "as": "Y"},
        {"calculate": "datum.q2lo + (datum.v + datum.err + 178) / 434 * (datum.q2hi - datum.q2lo)", "as": "Y2"}
      ],
      "mark": {"type": "errorbar", "ticks": {"size": 4}, "thickness": 1, "color": "#2020ff", "opacity": 0.75},
      "encoding": {"y2": {"field": "Y2"}}
    },
    {
      "data": {"name": "points"},
      "transform": [
        {"lookup": "panel", "from": {"data": {"name": "panels"}, "key": "panel", "fields": ["col", "q2lo", "q2hi"]}},
        {"calculate": "datum.col + datum.t / 2", "as": "X"},
        {"calculate": "datum.q2lo + (datum.v + 178) / 434 * (datum.q2hi - datum.q2lo)", "as": "Y"}
      ],
      "mark": {"type": "point", "filled": true, "size": 18, "opacity": 1},
      "encoding": {
        "color": {"field": "series", "type": "nominal", "title": null,
          "scale": {"domain": ["T+L", "LT", "TT"], "range": ["#000000", "#ff0000", "#0000ff"]},
          "legend": {
            "orient": "none", "legendX": 80, "legendY": 300, "padding": 0,
            "labelFont": "Liberation Serif", "labelFontSize": 21, "labelFontStyle": "italic",
            "symbolSize": 160, "symbolStrokeWidth": 0, "rowPadding": 22, "labelOffset": 2,
            "labelExpr": "datum.value === 'T+L' ? 'σT + εσL' : datum.value === 'LT' ? 'σLT' : 'σTT'",
            "labelColor": {"expr": "datum.value === 'LT' ? '#ff0000' : datum.value === 'TT' ? '#0000ff' : '#000000'"}
          }},
        "shape": {"field": "series", "type": "nominal", "title": null,
          "scale": {"domain": ["T+L", "LT", "TT"], "range": ["circle", "square", "triangle-up"]},
          "legend": {
            "orient": "none", "legendX": 80, "legendY": 300, "padding": 0,
            "labelFont": "Liberation Serif", "labelFontSize": 21, "labelFontStyle": "italic",
            "symbolSize": 160, "symbolStrokeWidth": 0, "rowPadding": 22, "labelOffset": 2,
            "labelExpr": "datum.value === 'T+L' ? 'σT + εσL' : datum.value === 'LT' ? 'σLT' : 'σTT'",
            "labelColor": {"expr": "datum.value === 'LT' ? '#ff0000' : datum.value === 'TT' ? '#0000ff' : '#000000'"}
          }}
      }
    },
    {
      "data": {"name": "panels"},
      "transform": [
        {"filter": "datum.panel === 'r1c3'"},
        {"calculate": "1.0955", "as": "X"},
        {"calculate": "3.0575", "as": "X2"},
        {"calculate": "3.4203", "as": "Y"},
        {"calculate": "4.5906", "as": "Y2"}
      ],
      "mark": {"type": "rect", "fill": "white", "stroke": "black", "strokeWidth": 2},
      "encoding": {"x2": {"field": "X2"}, "y2": {"field": "Y2"}}
    },
    {
      "data": {"name": "panels"},
      "transform": [
        {"filter": "datum.panel === 'r1c3'"},
        {"calculate": "1.0955", "as": "X"},
        {"calculate": "3.0575", "as": "X2"},
        {"calculate": "3.4203 + 172 * 0.002709", "as": "Y"}
      ],
      "mark": {"type": "rule", "stroke": "black", "strokeWidth": 2},
      "encoding": {"x2": {"field": "X2"}}
    },
    {
      "data": {"name": "insetaxis"},
      "transform": [
        {"filter": "datum.axis === 'x' && datum.value > 0 && datum.value < 2"},
        {"calculate": "1.0955 + datum.value * 0.981", "as": "X"},
        {"calculate": "3.4203", "as": "Y"},
        {"calculate": "3.4203 + 0.035", "as": "Y2"}
      ],
      "mark": {"type": "rule", "stroke": "black", "strokeWidth": 1.2},
      "encoding": {"y2": {"field": "Y2"}}
    },
    {
      "data": {"name": "insetaxis"},
      "transform": [
        {"filter": "datum.axis === 'y' && datum.value !== 0"},
        {"calculate": "1.0955", "as": "X"},
        {"calculate": "1.0955 + 0.05", "as": "X2"},
        {"calculate": "3.4203 + (datum.value + 172) * 0.002709", "as": "Y"}
      ],
      "mark": {"type": "rule", "stroke": "black", "strokeWidth": 1.2},
      "encoding": {"x2": {"field": "X2"}}
    },
    {
      "data": {"name": "insetaxis"},
      "transform": [
        {"filter": "datum.axis === 'x'"},
        {"calculate": "1.0955 + datum.value * 0.981", "as": "X"},
        {"calculate": "3.4203", "as": "Y"}
      ],
      "mark": {"type": "text", "align": "center", "baseline": "top", "dy": 5, "fontSize": 18},
      "encoding": {"text": {"field": "label"}}
    },
    {
      "data": {"name": "insetaxis"},
      "transform": [
        {"filter": "datum.axis === 'y'"},
        {"calculate": "1.0955", "as": "X"},
        {"calculate": "3.4203 + (datum.value + 172) * 0.002709", "as": "Y"}
      ],
      "mark": {"type": "text", "align": "right", "baseline": "middle", "dx": -4, "fontSize": 18},
      "encoding": {"text": {"field": "label"}}
    },
    {
      "data": {"name": "insettitles"},
      "transform": [
        {"filter": "datum.axis === 'y'"},
        {"calculate": "0.6", "as": "X"},
        {"calculate": "4.59", "as": "Y"}
      ],
      "mark": {"type": "text", "angle": 270, "align": "right", "baseline": "middle", "font": "DejaVu Serif", "fontSize": 23.5},
      "encoding": {"text": {"field": "label"}}
    },
    {
      "data": {"name": "insettitles"},
      "transform": [
        {"filter": "datum.axis === 'x'"},
        {"calculate": "2.955", "as": "X"},
        {"calculate": "3.2324", "as": "Y"}
      ],
      "mark": {"type": "text", "align": "right", "baseline": "alphabetic", "font": "DejaVu Serif", "fontSize": 18},
      "encoding": {"text": {"field": "label"}}
    },
    {
      "data": {"name": "curves"},
      "transform": [
        {"filter": "datum.panel === 'r1c3' && datum.series === 'T+L'"},
        {"calculate": "1.0955 + datum.t * 0.981", "as": "X"},
        {"calculate": "3.4203 + (datum.v + 172) * 0.002709", "as": "Y"}
      ],
      "mark": {"type": "line", "interpolate": "monotone", "strokeWidth": 2.2, "color": "#000000"}
    },
    {
      "data": {"name": "curves"},
      "transform": [
        {"filter": "datum.panel === 'r1c3' && datum.series === 'LT'"},
        {"calculate": "1.0955 + datum.t * 0.981", "as": "X"},
        {"calculate": "3.4203 + (datum.v + 172) * 0.002709", "as": "Y"}
      ],
      "mark": {"type": "line", "interpolate": "monotone", "strokeWidth": 2.2, "color": "#ff0000", "strokeDash": [2, 2]}
    },
    {
      "data": {"name": "curves"},
      "transform": [
        {"filter": "datum.panel === 'r1c3' && datum.series === 'TT'"},
        {"calculate": "1.0955 + datum.t * 0.981", "as": "X"},
        {"calculate": "3.4203 + (datum.v + 172) * 0.002709", "as": "Y"}
      ],
      "mark": {"type": "line", "interpolate": "monotone", "strokeWidth": 2.2, "color": "#0000ff"}
    },
    {
      "data": {"name": "points"},
      "transform": [
        {"filter": "datum.panel === 'r1c3' && datum.series === 'T+L'"},
        {"calculate": "1.0955 + datum.t * 0.981", "as": "X"},
        {"calculate": "3.4203 + (datum.v - datum.err + 172) * 0.002709", "as": "Y"},
        {"calculate": "3.4203 + (datum.v + datum.err + 172) * 0.002709", "as": "Y2"}
      ],
      "mark": {"type": "errorbar", "ticks": {"size": 6}, "thickness": 2, "color": "#000000"},
      "encoding": {"y2": {"field": "Y2"}}
    },
    {
      "data": {"name": "points"},
      "transform": [
        {"filter": "datum.panel === 'r1c3' && datum.series === 'LT'"},
        {"calculate": "1.0955 + datum.t * 0.981", "as": "X"},
        {"calculate": "3.4203 + (datum.v - datum.err + 172) * 0.002709", "as": "Y"},
        {"calculate": "3.4203 + (datum.v + datum.err + 172) * 0.002709", "as": "Y2"}
      ],
      "mark": {"type": "errorbar", "ticks": {"size": 6}, "thickness": 2, "color": "#ff0000"},
      "encoding": {"y2": {"field": "Y2"}}
    },
    {
      "data": {"name": "points"},
      "transform": [
        {"filter": "datum.panel === 'r1c3' && datum.series === 'TT'"},
        {"calculate": "1.0955 + datum.t * 0.981", "as": "X"},
        {"calculate": "3.4203 + (datum.v - datum.err + 172) * 0.002709", "as": "Y"},
        {"calculate": "3.4203 + (datum.v + datum.err + 172) * 0.002709", "as": "Y2"}
      ],
      "mark": {"type": "errorbar", "ticks": {"size": 6}, "thickness": 2, "color": "#0000ff"},
      "encoding": {"y2": {"field": "Y2"}}
    },
    {
      "data": {"name": "points"},
      "transform": [
        {"filter": "datum.panel === 'r1c3' && datum.series === 'T+L'"},
        {"calculate": "1.0955 + datum.t * 0.981", "as": "X"},
        {"calculate": "3.4203 + (datum.v + 172) * 0.002709", "as": "Y"}
      ],
      "mark": {"type": "point", "shape": "circle", "filled": true, "size": 38, "color": "#000000", "opacity": 1}
    },
    {
      "data": {"name": "points"},
      "transform": [
        {"filter": "datum.panel === 'r1c3' && datum.series === 'LT'"},
        {"calculate": "1.0955 + datum.t * 0.981", "as": "X"},
        {"calculate": "3.4203 + (datum.v + 172) * 0.002709", "as": "Y"}
      ],
      "mark": {"type": "point", "shape": "square", "filled": true, "size": 34, "color": "#ff0000", "opacity": 1}
    },
    {
      "data": {"name": "points"},
      "transform": [
        {"filter": "datum.panel === 'r1c3' && datum.series === 'TT'"},
        {"calculate": "1.0955 + datum.t * 0.981", "as": "X"},
        {"calculate": "3.4203 + (datum.v + 172) * 0.002709", "as": "Y"}
      ],
      "mark": {"type": "point", "shape": "triangle-up", "filled": true, "size": 30, "color": "#0000ff", "opacity": 1}
    },
    {
      "data": {"name": "panels"},
      "transform": [
        {"filter": "datum.panel === 'r1c3'"},
        {"calculate": "datum.col + 0.345 / 2", "as": "X"},
        {"calculate": "datum.q2lo + (163 + 178) / 434 * (datum.q2hi - datum.q2lo)", "as": "Y"},
        {"calculate": "2.318", "as": "X2"},
        {"calculate": "3.18", "as": "Y2"}
      ],
      "mark": {"type": "rule", "stroke": "#e8147f", "strokeWidth": 2},
      "encoding": {"x2": {"field": "X2"}, "y2": {"field": "Y2"}}
    },
    {
      "data": {"name": "panels"},
      "transform": [
        {"filter": "datum.panel === 'r1c3'"},
        {"calculate": "2.325", "as": "X"},
        {"calculate": "3.165", "as": "Y"}
      ],
      "mark": {"type": "point", "shape": "triangle-up", "filled": true, "size": 90, "angle": -18.7, "color": "#e8147f", "opacity": 1}
    }
  ]
}
